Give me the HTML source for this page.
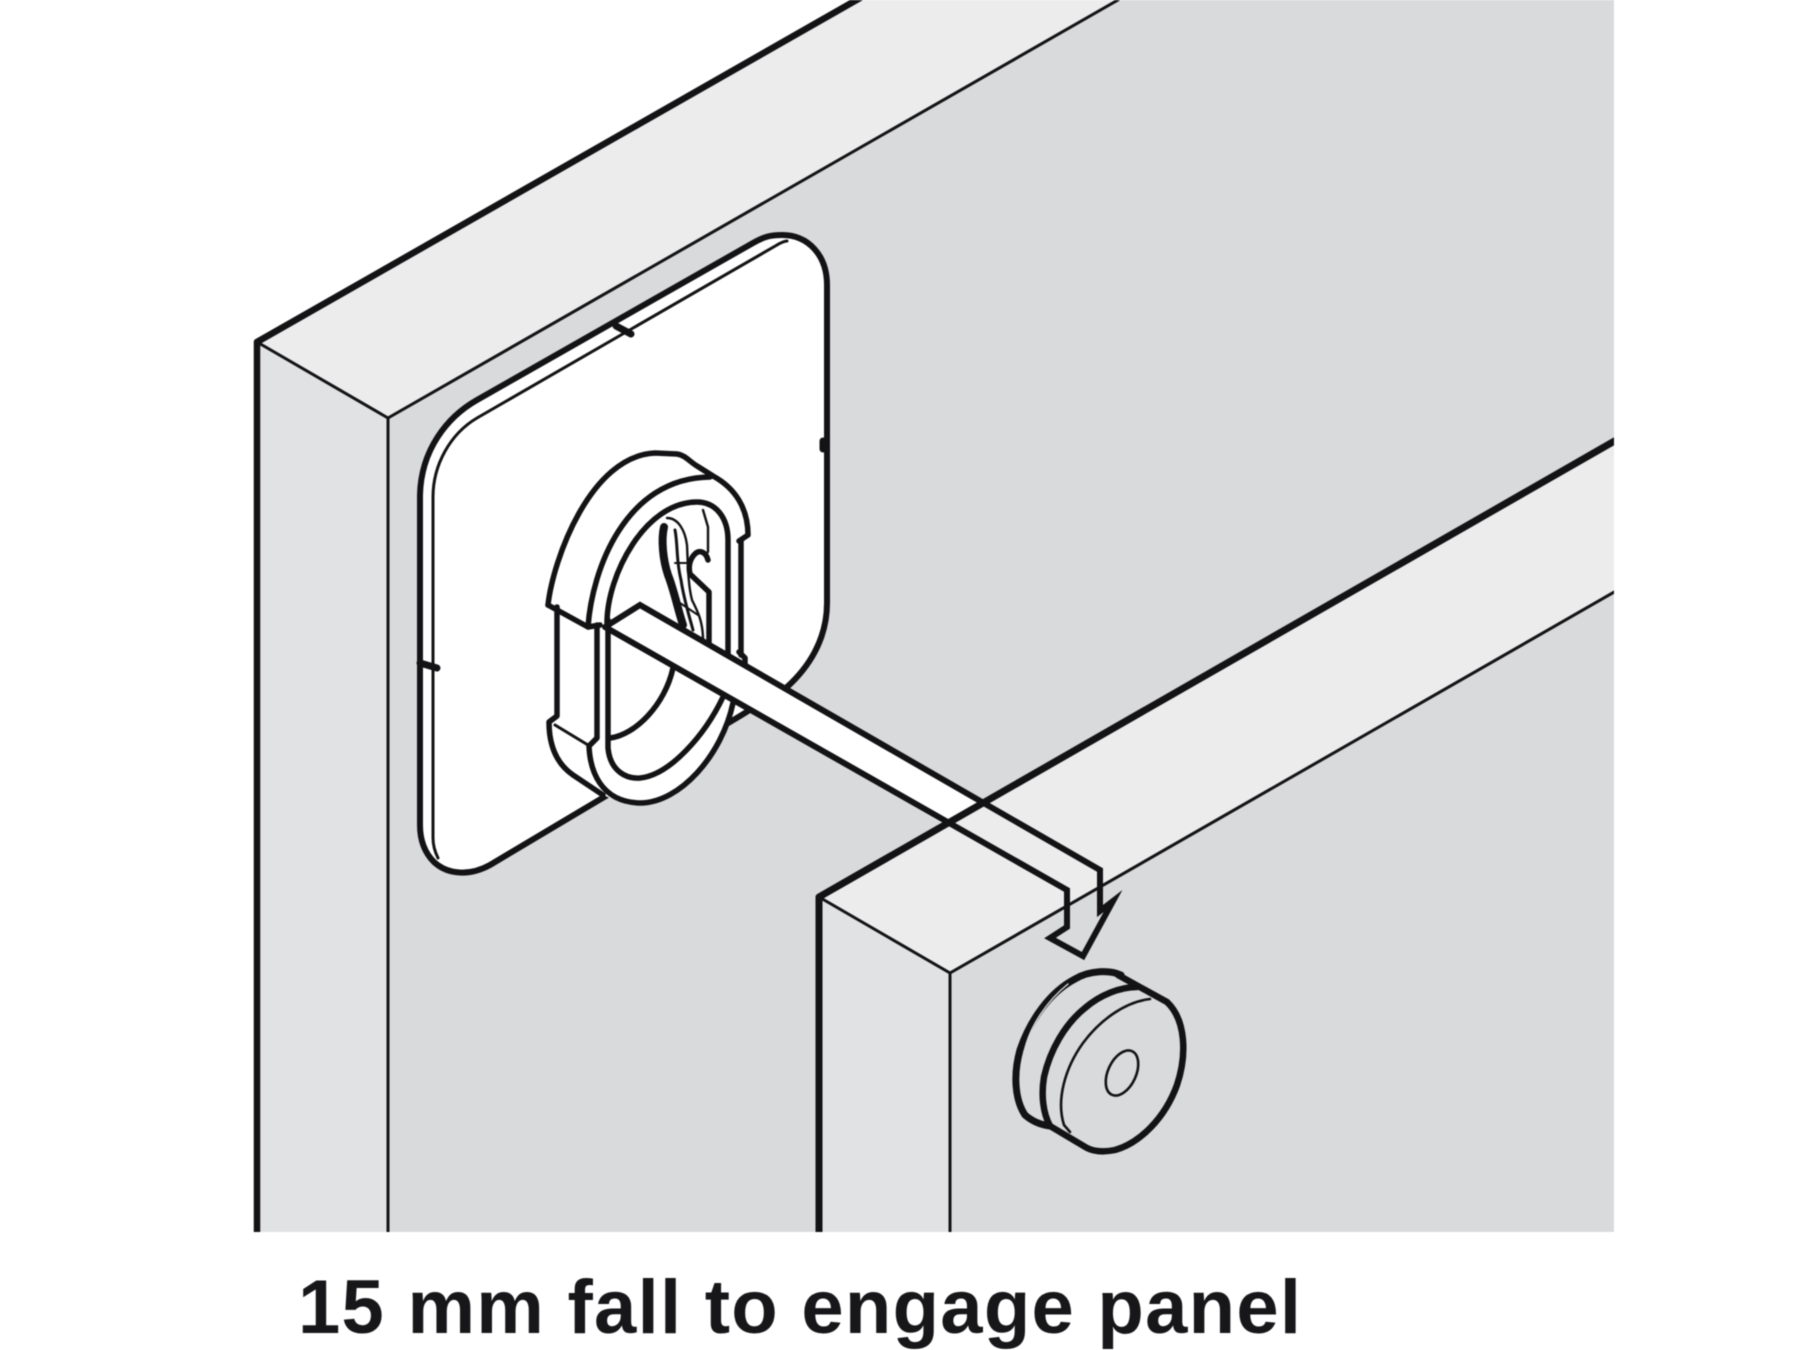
<!DOCTYPE html>
<html><head><meta charset="utf-8"><style>
html,body{margin:0;padding:0;background:#fff;width:1800px;height:1350px;overflow:hidden}
svg{display:block;filter:blur(0.5px)}
</style></head><body>
<svg width="1800" height="1350" viewBox="0 0 1800 1350" xmlns="http://www.w3.org/2000/svg">
<defs><clipPath id="c"><rect x="0" y="0" width="1614" height="1232"/></clipPath></defs>
<g clip-path="url(#c)" fill="none" stroke="#131315" stroke-linejoin="round" stroke-linecap="round">
<!-- panel 1 -->
<polygon points="257,1232 257,342 857,0 1616,0 1616,1232" fill="#d9dadc" stroke="none"/>
<polygon points="257,342 857,0 1118,0 388,418" fill="#ececed" stroke="none"/>
<polygon points="257,342 388,418 388,1232 257,1232" fill="#e1e2e4" stroke="none"/>
<path d="M257,342L388,418M388,418V1232M388,418L1118,0" stroke-width="3"/>
<path d="M257,1235V342L860,-2" stroke-width="6.5"/>

<!-- plate -->
<path d="M477,400L753,243C765,236 772,235 782,235C808,235 827,255 827,285V603C827,640 808,668 787,687L740,716L490,865C470,876 448,875 434,862C423,851 420,838 420,825V495C421,450 447,417 477,400Z" fill="#fff" stroke-width="6"/>
<path d="M787,241C785,241 780,243 777,245L477,418C450,434 433,465 433,497V838C433,846 435,852 438,858" stroke-width="3"/>
<path d="M616,326L631,334" stroke-width="7"/><path d="M420,663L437,668" stroke-width="7"/><path d="M823,441V449" stroke-width="7"/>

<!-- bracket back shell -->
<path d="M548,605C553,560 590,456 655,453L677,454C685,455 690,462 697,466L713,476C735,488 748,508 748,535L741,541V660L733,703C722,755 680,803 640,803C620,803 610,798 603,795L573,775C560,766 549,750 549,722L557,717V607Z" fill="#fff" stroke="none"/>
<path d="M548,605C553,560 590,456 655,453L677,454C685,455 690,462 697,466L713,476C735,488 748,508 748,535L739,541" stroke-width="5.5"/>
<path d="M548,605L588,627L600,625" stroke-width="5.5"/>
<path d="M557,607V716L549,722C549,750 560,766 573,775L603,795" stroke-width="5.5"/>
<path d="M555,725L588,745" stroke-width="3"/>
<path d="M741,541V655M739,652L745,658V668" stroke-width="5.5"/>
<!-- ring outer -->
<path d="M588,627C592,570 625,478 710,477" stroke-width="5.5"/>
<path d="M597,625V738L589,746C590,770 600,802 640,803C680,803 722,755 733,703" stroke-width="5.5"/>
<!-- ring inner -->
<path d="M607,623C607,575 645,502 697,502C716,502 728,518 728,540V655" stroke-width="5.5"/>
<path d="M608,620V748C610,770 625,779 640,778C670,775 705,735 723,697" stroke-width="5.5"/>
<!-- far interior -->
<path d="M610,738C635,735 665,705 673,668" stroke-width="5.5"/>
<!-- clip -->
<path d="M664,527C661,540 663,560 668,575C674,590 678,610 683,625" stroke-width="8"/>
<path d="M675,530C678,545 676,560 681,580C684,600 689,615 693,630" stroke-width="3"/>
<path d="M667,518C678,518 685,530 687,545C688,565 688,585 692,600C698,612 703,622 703,640" stroke-width="2.4"/>
<path d="M703,510L708,527V552" stroke-width="2.4"/>
<path d="M708,560C706,552 700,550 696,553C690,558 688,566 690,574L709,592V642" stroke-width="5.5"/>
<path d="M675,563H690" stroke-width="2"/>
<path d="M680,603L698,615" stroke-width="2"/>

<!-- bar white part -->
<polygon points="603,625 640,605 987,804 954,830" fill="#fff" stroke="none"/>

<!-- panel 2 -->
<polygon points="819,1232 819,897 1616,440 1616,1232" fill="#d9dadc" stroke="none"/>
<polygon points="819,897 1616,440 1616,591 950,973" fill="#ececed" stroke="none"/>
<polygon points="819,897 950,973 950,1232 819,1232" fill="#e1e2e4" stroke="none"/>
<path d="M819,897L950,973V1232M950,973L1616,591" stroke-width="3"/>
<path d="M819,1235V897L1618,439" stroke-width="7"/>

<!-- bar + arrow outline -->
<path d="M605,627L640,605L1100,870V911L1113,901L1083,956L1050,938L1067,927V890L605,627" stroke-width="6" stroke-linejoin="miter" stroke-miterlimit="8"/>

<!-- knob -->
<path d="M1120,974C1110,970 1090,970 1075,979C1050,992 1030,1020 1020,1050C1013,1075 1015,1100 1025,1115C1033,1122 1042,1125 1050,1126L1063,1135L1087,1148C1095,1152 1105,1152 1115,1150C1140,1143 1165,1118 1177,1085C1187,1055 1186,1020 1167,1002L1133,985Z" fill="#d9dadc" stroke="none"/>
<path d="M1121,975C1110,970 1090,970 1075,979C1050,992 1030,1020 1020,1050C1013,1075 1015,1100 1025,1115C1033,1122 1042,1125 1050,1126" stroke-width="7"/>
<path d="M1068,984C1048,1000 1030,1025 1024,1052" stroke-width="1.4" stroke="#d9dadc"/>
<path d="M1137,987C1120,987 1100,995 1085,1008C1065,1024 1050,1050 1044,1077C1041,1095 1043,1113 1050,1126L1087,1148C1095,1152 1105,1152 1115,1150C1140,1143 1165,1118 1177,1085C1187,1055 1186,1020 1167,1002L1118,975" stroke-width="6.5"/>
<path d="M1150,999C1125,1002 1100,1020 1083,1043C1065,1068 1056,1100 1064,1125L1070,1132" stroke-width="2.6"/>
<ellipse cx="1122" cy="1073" rx="14" ry="24" transform="rotate(25 1122 1073)" stroke-width="2.6"/>
</g>
<text x="298" y="1333" font-family="'Liberation Sans',Arial,sans-serif" font-weight="700" font-size="76" fill="#17171a" textLength="1003" lengthAdjust="spacing">15 mm fall to engage panel</text>
</svg>
</body></html>
